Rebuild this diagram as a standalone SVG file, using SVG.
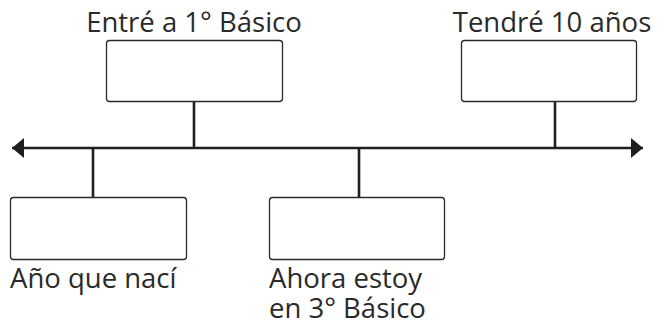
<svg xmlns="http://www.w3.org/2000/svg" width="658" height="324" viewBox="0 0 658 324">
<style>
.box{fill:#fff;stroke:#2a2a2a;stroke-width:1.3}
.ln{stroke:#1f1f1f;stroke-width:2.6;fill:none}
.t{font-family:"Open Sans","Noto Sans",sans-serif;font-size:27.5px;fill:#2a2a2a}
</style>
<defs>
<marker id="ah" viewBox="0 0 12 20" refX="12" refY="10" markerWidth="12" markerHeight="20" markerUnits="userSpaceOnUse" orient="auto-start-reverse">
<path d="M0,0 L12,10 L0,20 Z" fill="#1f1f1f"/>
</marker>
</defs>
<rect width="658" height="324" fill="#fff"/>
<g id="connectors">
<line class="ln" x1="12" y1="148" x2="643" y2="148" marker-start="url(#ah)" marker-end="url(#ah)"/>
<line class="ln" x1="194" y1="101" x2="194" y2="148"/>
<line class="ln" x1="555" y1="101" x2="555" y2="148"/>
<line class="ln" x1="93" y1="148" x2="93" y2="197"/>
<line class="ln" x1="359" y1="148" x2="359" y2="197"/>
</g>
<g id="n1">
<rect class="box" x="106.5" y="40.5" width="176" height="61" rx="3"/>
<text class="t" x="194" y="32" text-anchor="middle">Entré a 1° Básico</text>
</g>
<g id="n2">
<rect class="box" x="461.5" y="40.5" width="175" height="61" rx="3"/>
<text class="t" x="552" y="32" text-anchor="middle">Tendré 10 años</text>
</g>
<g id="n3">
<rect class="box" x="10.5" y="197.5" width="176" height="62" rx="3"/>
<text class="t" x="10" y="288">Año que nací</text>
</g>
<g id="n4">
<rect class="box" x="269.5" y="197.5" width="175" height="62" rx="3"/>
<text class="t" x="269" y="288">Ahora estoy</text>
<text class="t" x="269" y="318">en 3° Básico</text>
</g>
</svg>
